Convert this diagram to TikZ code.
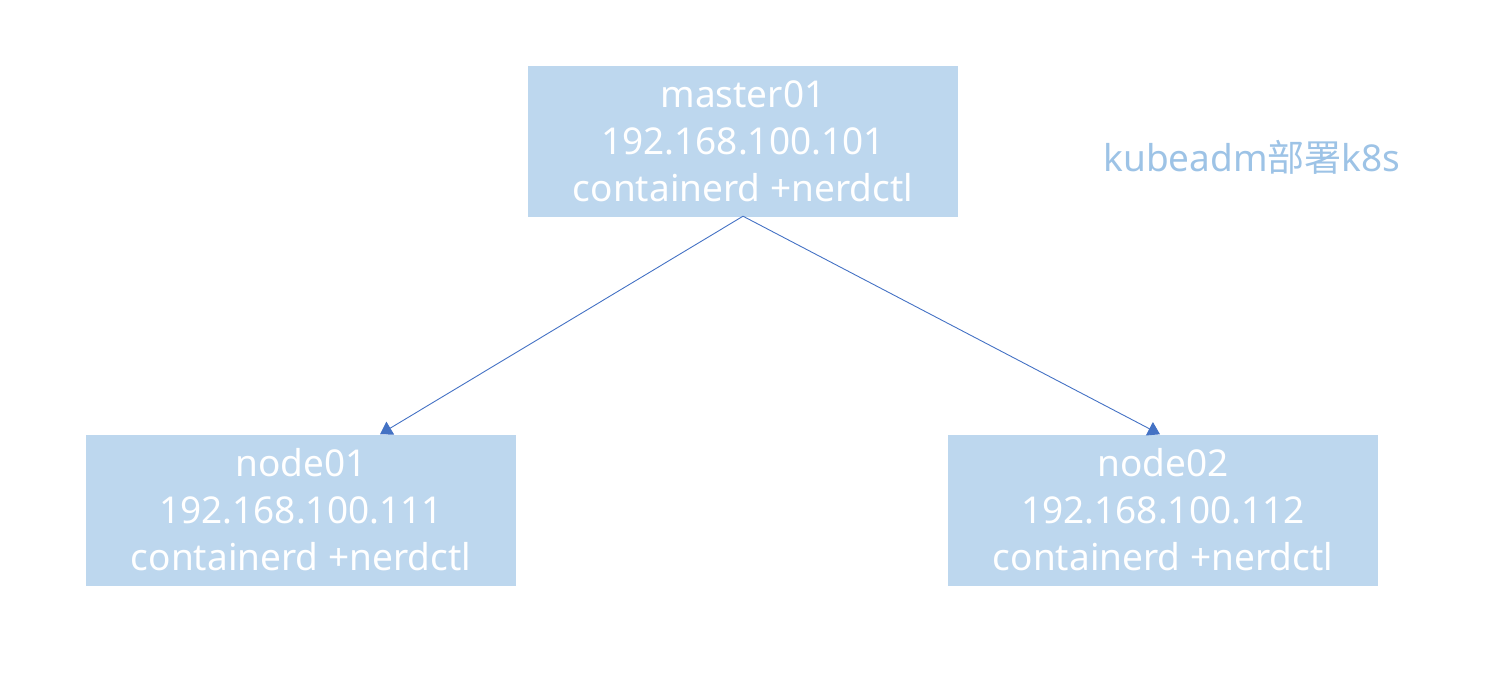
\documentclass[tikz,border=0pt]{standalone}
\usepackage{fontspec}
\setmainfont{Noto Sans}
\newfontfamily\cjk{Noto Sans CJK SC}
\usetikzlibrary{arrows.meta}
\definecolor{boxfill}{HTML}{BDD7EE}
\definecolor{linkblue}{HTML}{4472C4}
\definecolor{notecol}{HTML}{9DC3E6}
\tikzset{
    hostbox/.style={fill=boxfill, text=white, minimum width=430pt, minimum height=151pt,
        align=center, font=\fontsize{37pt}{47pt}\selectfont, inner sep=0pt},
    link/.style={draw=linkblue, line width=0.9pt, -{Triangle[length=12pt,width=15pt]}}
}
\begin{document}
\begin{tikzpicture}[x=1pt, y=-1pt]
    \useasboundingbox (0,0) rectangle (1506,682); % keep the page size
    % hosts
    \node[hostbox] (master) at (743,141.5) {master01\\192.168.100.101\\containerd +nerdctl};
    \node[hostbox] (node01) at (301,510) {node01\\192.168.100.111\\containerd +nerdctl};
    \node[hostbox] (node02) at (1163,510) {node02\\192.168.100.112\\containerd +nerdctl};
    % title
    \node[text=notecol, font=\fontsize{37pt}{44pt}\selectfont] (title) at (1252,157) {kubeadm{\cjk 部署}k8s};
    % links
    \draw[link] ([yshift=1pt]master.south) -- ([xshift=79pt]node01.north);
    \draw[link] ([yshift=1pt]master.south) -- ([xshift=-3pt]node02.north);
\end{tikzpicture}
\end{document}
